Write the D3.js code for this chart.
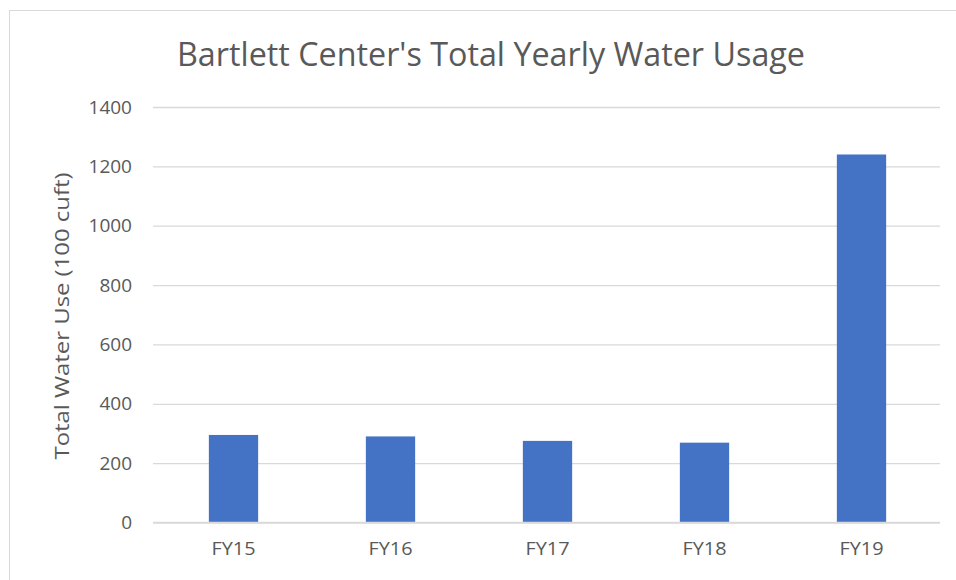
<!DOCTYPE html>
<html>
<head>
<meta charset="utf-8">
<script src="https://cdn.jsdelivr.net/npm/d3@7"></script>
<style>
  body { margin: 0; background: #fff; }
  svg { display: block; }
</style>
</head>
<body>
<div id="chart"></div>
<script>
// values
let categories = ["FY15", "FY16", "FY17", "FY18", "FY19"];
let usage = [295, 290, 275, 269, 1240];
let yTicks = [0, 200, 400, 600, 800, 1000, 1200, 1400];

const width = 956;
const height = 580;
const margin = { top: 107, right: 16, bottom: 57, left: 155 };

let svg = d3.select('#chart')
  .append("svg")
    .attr("width", width)
    .attr("height", height);

// chart frame
svg.append("rect")
  .attr("x", 9.5)
  .attr("y", 10.5)
  .attr("width", width)
  .attr("height", height)
  .attr("fill", "#fff")
  .attr("stroke", "#d9d9d9");

let x = d3.scaleBand()
  .domain(categories)
  .range([margin.left, width - margin.right])
  .paddingInner(0.686)
  .paddingOuter(0.343);

let y = d3.scaleLinear()
  .domain([0, 1400])
  .range([height - margin.bottom - 0.5, margin.top]);

// gridlines + y labels
let yAxis = d3.axisLeft(y)
  .tickValues(yTicks)
  .tickFormat(d3.format("d"))
  .tickSize(-(width - margin.right - margin.left + 2))
  .tickPadding(21);

let gy = svg.append("g")
  .attr("transform", `translate(${margin.left - 2},0)`)
  .call(yAxis);
gy.select(".domain").remove();
gy.selectAll(".tick line")
  .attr("stroke", "#d9d9d9")
  .attr("stroke-width", 1.3);
gy.selectAll(".tick text")
  .attr("fill", "#595959")
  .style("font-family", "'Open Sans', sans-serif")
  .style("font-size", "19px");

// bars
svg.append("g")
  .selectAll("rect")
  .data(usage)
  .enter()
  .append("rect")
    .attr("x", (d, i) => x(categories[i]))
    .attr("y", d => y(d))
    .attr("width", x.bandwidth())
    .attr("height", d => y(0) - y(d))
    .attr("fill", "#4472c4");

// x axis
let xAxis = d3.axisBottom(x).tickSize(0).tickPadding(19);
let gx = svg.append("g")
  .attr("transform", `translate(0,${y(0)})`)
  .call(xAxis);
gx.select(".domain")
  .attr("d", `M${margin.left - 2},0H${width - margin.right}`)
  .attr("stroke", "#d9d9d9")
  .attr("stroke-width", 1.3);
gx.selectAll(".tick text")
  .attr("fill", "#595959")
  .style("font-family", "'Open Sans', sans-serif")
  .style("font-size", "19px")
  .attr("textLength", 44)
  .attr("lengthAdjust", "spacingAndGlyphs");

// title
svg.append("text")
  .attr("x", 491)
  .attr("y", 65.5)
  .attr("text-anchor", "middle")
  .attr("fill", "#595959")
  .attr("textLength", 628)
  .attr("lengthAdjust", "spacingAndGlyphs")
  .style("font-family", "'Open Sans', sans-serif")
  .style("font-size", "33px")
  .text("Bartlett Center's Total Yearly Water Usage");

// y axis title
svg.append("text")
  .attr("transform", "translate(69,316) rotate(-90)")
  .attr("text-anchor", "middle")
  .attr("fill", "#595959")
  .attr("textLength", 287)
  .attr("lengthAdjust", "spacingAndGlyphs")
  .style("font-family", "'Open Sans', sans-serif")
  .style("font-size", "20px")
  .text("Total Water Use (100 cuft)");
</script>
</body>
</html>
